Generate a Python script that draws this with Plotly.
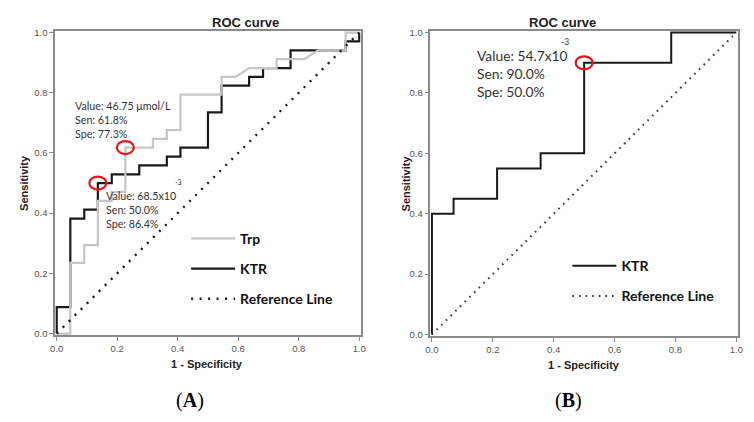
import plotly.graph_objects as go

# ---------------- DATA ----------------
# Panel A : ROC coordinates (1 - specificity, sensitivity)
a_ktr_fpr = [0.000, 0.000, 0.045, 0.045, 0.091, 0.091, 0.136, 0.136, 0.182, 0.182,
             0.273, 0.273, 0.364, 0.364, 0.409, 0.409, 0.500, 0.500, 0.545, 0.545,
             0.636, 0.636, 0.682, 0.682, 0.773, 0.773, 0.955, 0.955, 1.000, 1.000]
a_ktr_sen = [0.000, 0.088, 0.088, 0.382, 0.382, 0.412, 0.412, 0.500, 0.500, 0.529,
             0.529, 0.559, 0.559, 0.588, 0.588, 0.618, 0.618, 0.735, 0.735, 0.824,
             0.824, 0.853, 0.853, 0.882, 0.882, 0.941, 0.941, 0.971, 0.971, 1.000]

a_trp_fpr = [0.000, 0.045, 0.045, 0.091, 0.091, 0.136, 0.136, 0.182, 0.182, 0.227,
             0.227, 0.318, 0.318, 0.364, 0.364, 0.409, 0.409, 0.545, 0.545, 0.591,
             0.636, 0.727, 0.727, 0.818, 0.864, 0.955, 0.955, 1.000]
a_trp_sen = [0.000, 0.000, 0.235, 0.235, 0.294, 0.294, 0.441, 0.441, 0.471, 0.471,
             0.618, 0.618, 0.647, 0.647, 0.676, 0.676, 0.794, 0.794, 0.853, 0.853,
             0.882, 0.882, 0.912, 0.912, 0.941, 0.941, 1.000, 1.000]

# Panel B : KTR ROC coordinates
b_ktr_fpr = [0.000, 0.000, 0.071, 0.071, 0.214, 0.214, 0.357, 0.357, 0.500, 0.500,
             0.786, 0.786, 1.000]
b_ktr_sen = [0.000, 0.400, 0.400, 0.450, 0.450, 0.550, 0.550, 0.600, 0.600, 0.900,
             0.900, 1.000, 1.000]

ref_line = [0.0, 1.0]

# Optimal cut-off points (1 - specificity, sensitivity)
a_trp_cut = (0.227, 0.618)
a_ktr_cut = (0.136, 0.500)
b_ktr_cut = (0.500, 0.900)

tick_vals = [0.0, 0.2, 0.4, 0.6, 0.8, 1.0]
tick_text = ["0.0", "0.2", "0.4", "0.6", "0.8", "1.0"]

a_trp_label = "Value: 46.75 μmol/L<br>Sen: 61.8%<br>Spe: 77.3%"
a_ktr_label = "Value: 68.5x10<br>Sen: 50.0%<br>Spe: 86.4%"
b_ktr_label = "Value: 54.7x10<br>Sen: 90.0%<br>Spe: 50.0%"

# ---------------- FIGURE ----------------
# page body has an 8px margin: the figure sits at (8, 8) on screen and fits the window
OFF = 8
W, H = 754 - 2 * OFF, 422 - 2 * OFF
def sx(p):
    return (p - OFF) / W
def sy(p):
    return 1 - (p - OFF) / H

fig = go.Figure()

GREY = "#c6c6c6"
BLACK = "#1a1a1a"

# Panel A
fig.add_trace(go.Scatter(x=a_ktr_fpr, y=a_ktr_sen, mode="lines", name="KTR",
                         line=dict(color=BLACK, width=2.2), xaxis="x", yaxis="y",
                         legend="legend", legendgroup="a2", legendrank=2))
fig.add_trace(go.Scatter(x=a_trp_fpr, y=a_trp_sen, mode="lines", name="Trp",
                         line=dict(color=GREY, width=2.2), xaxis="x", yaxis="y",
                         legend="legend", legendgroup="a1", legendrank=1))
fig.add_trace(go.Scatter(x=ref_line, y=ref_line, mode="lines", name="Reference Line",
                         line=dict(color=BLACK, width=2.4, dash="2px,6.5px"),
                         xaxis="x", yaxis="y",
                         legend="legend", legendgroup="a3", legendrank=3))

# Panel B
fig.add_trace(go.Scatter(x=b_ktr_fpr, y=b_ktr_sen, mode="lines", name="KTR",
                         line=dict(color=BLACK, width=2), xaxis="x2", yaxis="y2",
                         legend="legend2", legendgroup="b1", legendrank=1))
fig.add_trace(go.Scatter(x=ref_line, y=ref_line, mode="lines", name="Reference Line",
                         line=dict(color="#333333", width=2, dash="1.6px,5px"),
                         xaxis="x2", yaxis="y2",
                         legend="legend2", legendgroup="b2", legendrank=2))

# axes geometry (screen pixels of 0.0 and 1.0)
pad = 0.005
def xdom(p0, p1):
    span = p1 - p0
    return [sx(p0 - pad * span), sx(p1 + pad * span)]
def ydom(p0, p1):  # p0 = pixel of 0.0 (bottom), p1 = pixel of 1.0 (top)
    span = p0 - p1
    return [sy(p0 + pad * span), sy(p1 - pad * span)]

A_X0, A_X1, A_Y0, A_Y1 = 52.3, 359.0, 336.0, 29.0
B_X0, B_X1, B_Y0, B_Y1 = 432.7, 741.3, 337.0, 29.0

axis_common = dict(range=[-pad, 1 + pad], showgrid=False, zeroline=False,
                   showline=True, linecolor="#8a8a8a", linewidth=1.5, mirror=True,
                   ticks="outside", ticklen=4, tickcolor="#8a8a8a", tickwidth=1,
                   tickvals=tick_vals, ticktext=tick_text,
                   tickfont=dict(family="Liberation Sans", size=9.5, color="#555555"),
                   fixedrange=True)

leg_font = dict(family="Lato", size=14, color="#111111", weight="bold")
fig.update_layout(
    width=W, height=H,
    margin=dict(l=0, r=0, t=0, b=0),
    paper_bgcolor="white", plot_bgcolor="white",
    xaxis=dict(domain=xdom(A_X0, A_X1), anchor="y", **axis_common),
    yaxis=dict(domain=ydom(A_Y0, A_Y1), anchor="x", **axis_common),
    xaxis2=dict(domain=xdom(B_X0, B_X1), anchor="y2", **axis_common),
    yaxis2=dict(domain=ydom(B_Y0, B_Y1), anchor="x2", **axis_common),
    legend=dict(x=sx(183.5), y=sy(223), xanchor="left", yanchor="top",
                bgcolor="rgba(0,0,0,0)", borderwidth=0, traceorder="grouped",
                tracegroupgap=9, itemwidth=44, font=leg_font),
    legend2=dict(x=sx(570), y=sy(251), xanchor="left", yanchor="top",
                 bgcolor="rgba(0,0,0,0)", borderwidth=0, traceorder="grouped",
                 tracegroupgap=9, itemwidth=44, font=leg_font),
    showlegend=True,
)

# cut-off ellipses
for (cx, cy), xr, yr in [(a_trp_cut, "x", "y"), (a_ktr_cut, "x", "y"), (b_ktr_cut, "x2", "y2")]:
    fig.add_shape(type="circle", xref=xr, yref=yr, xsizemode="pixel", ysizemode="pixel",
                  xanchor=cx, yanchor=cy, x0=-8.5, x1=8.5, y0=-6.5, y1=6.5,
                  line=dict(color="#e8141c", width=2.2))

ann_font = dict(family="Lato", size=10.7, color="#333333")
# cut-off labels
fig.add_annotation(x=0.055, y=0.711, xref="x", yref="y", text=a_trp_label, showarrow=False,
                   xanchor="left", yanchor="middle", align="left", font=ann_font)
fig.add_annotation(x=0.155, y=0.413, xref="x", yref="y", text=a_ktr_label, showarrow=False,
                   xanchor="left", yanchor="middle", align="left", font=ann_font)
fig.add_annotation(x=0.402, y=0.502, xref="x", yref="y", text="-3", showarrow=False,
                   xanchor="center", yanchor="middle", font=dict(family="Lato", size=7, color="#333333"))
fig.add_annotation(x=0.1426, y=0.8636, xref="x2", yref="y2", text=b_ktr_label, showarrow=False,
                   xanchor="left", yanchor="middle", align="left",
                   font=dict(family="Lato", size=13.8, color="#333333"))
fig.add_annotation(x=0.438, y=0.968, xref="x2", yref="y2", text="-3", showarrow=False,
                   xanchor="center", yanchor="middle", font=dict(family="Lato", size=8.5, color="#333333"))

# titles
title_font = dict(family="Liberation Sans", size=13, color="#222222", weight="bold")
axt_font = dict(family="Liberation Sans", size=11, color="#222222", weight="bold")
fig.add_annotation(x=sx(243.3), y=sy(18.3), xref="paper", yref="paper", text="ROC curve",
                   showarrow=False, xanchor="center", yanchor="middle", font=title_font)
fig.add_annotation(x=sx(565.3), y=sy(18.7), xref="paper", yref="paper", text="ROC curve",
                   showarrow=False, xanchor="center", yanchor="middle", font=title_font)
fig.add_annotation(x=sx(205), y=sy(366.7), xref="paper", yref="paper", text="1 - Specificity",
                   showarrow=False, xanchor="center", yanchor="middle", font=axt_font)
fig.add_annotation(x=sx(587), y=sy(367.7), xref="paper", yref="paper", text="1 - Specificity",
                   showarrow=False, xanchor="center", yanchor="middle", font=axt_font)
fig.add_annotation(x=sx(19), y=sy(182.5), xref="paper", yref="paper", text="Sensitivity",
                   showarrow=False, xanchor="center", yanchor="middle", textangle=-90, font=axt_font)
fig.add_annotation(x=sx(406.3), y=sy(183), xref="paper", yref="paper", text="Sensitivity",
                   showarrow=False, xanchor="center", yanchor="middle", textangle=-90, font=axt_font)

# panel labels
lab_font = dict(family="Liberation Serif", size=20, color="#000000")
fig.add_annotation(x=sx(187.7), y=sy(404.3), xref="paper", yref="paper", text="(<b>A</b>)",
                   showarrow=False, xanchor="center", yanchor="middle", font=lab_font)
fig.add_annotation(x=sx(571.3), y=sy(404.3), xref="paper", yref="paper", text="(<b>B</b>)",
                   showarrow=False, xanchor="center", yanchor="middle", font=lab_font)

fig.write_html("out.html")
